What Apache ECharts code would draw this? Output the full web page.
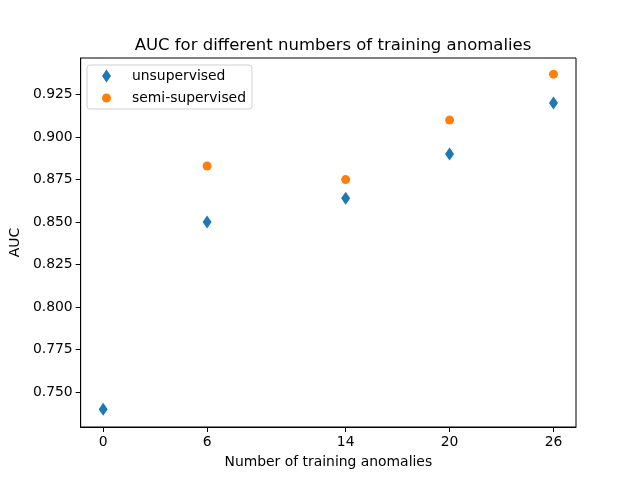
<!DOCTYPE html>
<html>
<head>
<meta charset="utf-8">
<script src="https://cdn.jsdelivr.net/npm/echarts@6/dist/echarts.min.js"></script>
<style>
  html, body { margin: 0; padding: 0; background: #fff; }
  #chart { width: 640px; height: 480px; }
</style>
</head>
<body>
<div id="chart"></div>
<script>
// training anomalies on the x axis
const anomalies = [0, 6, 14, 20, 26];
const unsupervised = [0.740, 0.850, 0.864, 0.890, 0.920];
const semiAnomalies = [6, 14, 20, 26];
const semiSupervised = [0.883, 0.875, 0.910, 0.937];
const xTicks = [0, 6, 14, 20, 26];
const yTicks = [0.750, 0.775, 0.800, 0.825, 0.850, 0.875, 0.900, 0.925];

const font = 'DejaVu Sans';
const chart = echarts.init(document.getElementById('chart'), null, { renderer: 'canvas' });

const zip = (xs, ys) => xs.map((x, i) => [x, ys[i]]);

chart.setOption({
  animation: false,
  backgroundColor: '#fff',
  textStyle: { fontFamily: font },
  title: {
    text: 'AUC for different numbers of training anomalies',
    left: 328, top: 32, textAlign: 'center',
    textStyle: { fontFamily: font, fontSize: 16.5, fontWeight: 'normal', color: '#000' }
  },
  grid: {
    left: 80, right: 64, top: 58, bottom: 53,
    show: true, borderColor: '#000', borderWidth: 1
  },
  legend: {
    left: 87, top: 65, orient: 'vertical',
    itemWidth: 9, itemHeight: 13, itemGap: 8,
    padding: [4, 6, 4, 15],
    borderColor: '#d0d0d0', borderWidth: 1, borderRadius: 3,
    backgroundColor: 'rgba(255,255,255,0.8)',
    textStyle: { fontFamily: font, fontSize: 13.9, color: '#000', padding: [0, 0, 0, 16] },
    data: [
      { name: 'unsupervised', icon: 'diamond' },
      { name: 'semi-supervised', icon: 'circle' }
    ]
  },
  xAxis: {
    type: 'value', min: -1.3, max: 27.3,
    name: 'Number of training anomalies', nameLocation: 'middle', nameGap: 28,
    nameTextStyle: { fontFamily: font, fontSize: 13.9, color: '#000' },
    splitLine: { show: false },
    axisLine: { show: true, onZero: false, lineStyle: { color: '#000', width: 1 } },
    axisTick: { show: true, length: 5, lineStyle: { color: '#000' }, customValues: xTicks },
    axisLabel: { fontFamily: font, fontSize: 13.9, color: '#000', margin: 8, customValues: xTicks }
  },
  yAxis: {
    type: 'value', min: 0.7295, max: 0.9465,
    name: 'AUC', nameLocation: 'middle', nameGap: 56,
    nameTextStyle: { fontFamily: font, fontSize: 13.9, color: '#000' },
    splitLine: { show: false },
    axisLine: { show: true, onZero: false, lineStyle: { color: '#000', width: 1 } },
    axisTick: { show: true, length: 5, lineStyle: { color: '#000' }, customValues: yTicks },
    axisLabel: {
      fontFamily: font, fontSize: 13.9, color: '#000', margin: 8, customValues: yTicks,
      formatter: v => v.toFixed(3)
    }
  },
  series: [
    {
      name: 'unsupervised', type: 'scatter',
      symbol: 'diamond', symbolSize: [9, 13],
      itemStyle: { color: '#1f77b4', opacity: 1 },
      data: zip(anomalies, unsupervised)
    },
    {
      name: 'semi-supervised', type: 'scatter',
      symbol: 'circle', symbolSize: 9,
      itemStyle: { color: '#ff7f0e', opacity: 1 },
      data: zip(semiAnomalies, semiSupervised)
    }
  ]
});
</script>
</body>
</html>
